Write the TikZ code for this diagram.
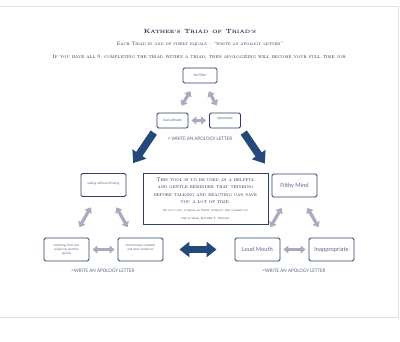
\documentclass[tikz,border=0pt]{standalone}
\usepackage{fontspec}
\setsansfont{Carlito}
\usetikzlibrary{arrows.meta}
\definecolor{navy}{HTML}{1F2D4D}
\definecolor{boxline}{HTML}{2E4066}
\definecolor{boxtext}{HTML}{5D6C8A}
\definecolor{softgray}{HTML}{A9ACBC}
\definecolor{bigblue}{HTML}{24487A}
% bold small caps by hand: large first letter, smaller capitals after it
\newcommand\tc[2]{{\fontsize{6.1}{8}\selectfont #1}{\fontsize{4.7}{6}\selectfont\MakeUppercase{#2}}}
\begin{document}
\begin{tikzpicture}[x=1pt,y=-1pt,every node/.style={align=center},
  tbox/.style={draw=boxline,line width=.9pt,rounded corners=1.5pt,fill=white,text=boxtext,inner sep=1pt},
  small/.style={tbox,minimum width=31pt,minimum height=15pt,font=\sffamily\fontsize{3.7}{4.3}\selectfont},
  mid/.style={tbox,minimum width=45pt,minimum height=23pt,font=\sffamily\fontsize{3.3}{4}\selectfont},
  big/.style={tbox,minimum width=45pt,minimum height=23pt,font=\sffamily\fontsize{6.2}{7}\selectfont},
  eq/.style={text=boxtext,font=\sffamily\fontsize{5.3}{6}\selectfont},
  grayarr/.style={softgray,line width=3.2pt,{Triangle[width=8pt,length=5pt]}-{Triangle[width=8pt,length=5pt]}},
  bigarr/.style={bigblue,line width=7.5pt,-{Triangle[width=16pt,length=11pt]}}]
  \useasboundingbox (0,0) rectangle (400,342);
  % the page edge
  \draw[black!12,line width=.8pt] (-5,6) -- (398.5,6) -- (398.5,317) -- (-5,317);

  \node[text=navy,font=\rmfamily\bfseries] (title) at (200,31)
    {\tc{K}{athee's} \tc{T}{riad} \tc{}{of} \tc{T}{riad's}};
  \node[text=navy,font=\rmfamily\scshape\fontsize{5}{6}\selectfont] (sub) at (200,44.5)
    {Each Triad in and of itself equals -- ``write an apology letter''};
  \node[text=navy,font=\rmfamily\scshape\fontsize{5.4}{6}\selectfont] (rule) at (200,57.5)
    {If you have all 9, completing the triad within a triad, then apologizing will become your full time job.};

  % top triad
  \node[small,minimum width=34pt] (nofilter) at (200,75.5) {No Filter};
  \node[small] (badatt) at (172.5,120.5) {bad attitude};
  \node[small,text depth=4pt] (opin) at (225,120.5) {opionated};
  \node[eq] (eqtop) at (200,139) {= WRITE AN APOLOGY LETTER};

  % left triad
  \node[mid,text depth=3pt] (talk) at (103.5,185) {talking without thinking};
  \node[mid] (switch) at (66.5,249.5) {switching from one\\subject to another\\quickly};
  \node[mid,text depth=5pt] (notform) at (140.5,249.5) {Not forming complete\\and clear sentences};
  \node[eq] (eqleft) at (103,271) {=WRITE AN APOLOGY LETTER};

  % right triad
  \node[big] (filthy) at (294.5,185.5) {Filthy Mind};
  \node[big] (loud) at (257.5,249.5) {Loud Mouth};
  \node[big] (inapp) at (331.5,249.5) {Inappropriate};
  \node[eq] (eqright) at (294,271) {=WRITE AN APOLOGY LETTER};

  \node[draw=boxline,line width=.8pt,minimum width=125pt,minimum height=51pt,text=navy,
    font=\rmfamily\scshape\fontsize{5.3}{7.3}\selectfont] (tool) at (205.5,198.5)
    {This tool is to be used as a helpful\\and gentle reminder that thinking\\
     before talking and reacting can save\\you a lot of time.\\[1pt]
     {\fontsize{3}{4.6}\selectfont Do not copy, publish or Print without the consent of}\\
     {\fontsize{3}{4.6}\selectfont the author: Kathee T. Stevens}};

  \draw[grayarr,shorten <=8pt,shorten >=9pt] (badatt) -- (nofilter);
  \draw[grayarr,shorten <=9pt,shorten >=8pt] (nofilter) -- (opin);
  \draw[grayarr,shorten <=3pt,shorten >=3pt] (badatt) -- (opin);
  \draw[grayarr,shorten <=12pt,shorten >=12pt] (switch) -- (talk);
  \draw[grayarr,shorten <=12pt,shorten >=12pt] (talk) -- (notform);
  \draw[grayarr,shorten <=3pt,shorten >=3pt] (switch) -- (notform);
  \draw[grayarr,shorten <=12pt,shorten >=12pt] (loud) -- (filthy);
  \draw[grayarr,shorten <=12pt,shorten >=12pt] (filthy) -- (inapp);
  \draw[grayarr,shorten <=3pt,shorten >=3pt] (loud) -- (inapp);

  \draw[bigarr,shorten <=5pt,shorten >=12pt] (badatt.south west) -- (talk.north east);
  \draw[bigarr,shorten <=5pt,shorten >=12pt] (opin.south east) -- (filthy.north west);
  \draw[bigblue,line width=7pt,{Triangle[width=15pt,length=10pt]}-{Triangle[width=15pt,length=10pt]},
    shorten <=16pt,shorten >=18pt] (notform) -- (loud);
\end{tikzpicture}
\end{document}
